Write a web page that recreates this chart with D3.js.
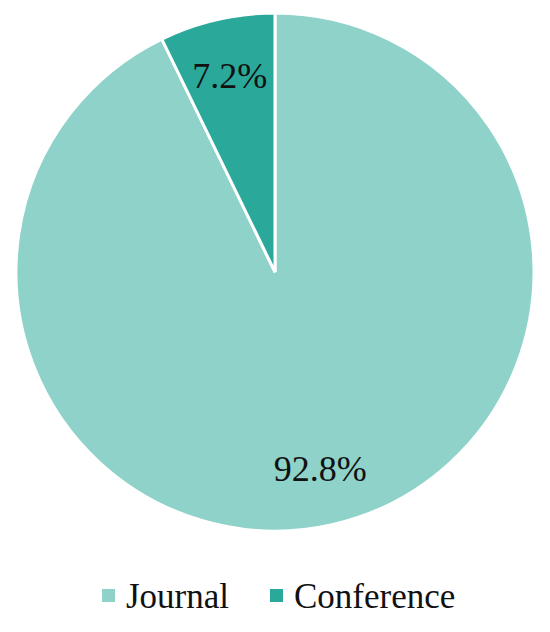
<!DOCTYPE html>
<html>
<head>
<meta charset="utf-8">
<script src="https://cdn.jsdelivr.net/npm/d3@7"></script>
<style>
  body { margin: 0; background: #fff; }
</style>
</head>
<body>
<div id="chart"></div>
<script>
// data
const categories = ["Journal", "Conference"];
const shares = [92.8, 7.2];
const colours = ["#8ed2c9", "#2aa99b"];

const width = 550, height = 632;
const cx = 275, cy = 272, radius = 259;
const fontFamily = "'Liberation Serif', 'Times New Roman', Tinos, 'DejaVu Serif', serif";

const svg = d3.select("#chart").append("svg")
  .attr("width", width)
  .attr("height", height)
  .style("font-family", fontFamily);

const pie = d3.pie().sort(null).value(d => d.v);
const arcs = pie(categories.map((c, i) => ({ c: c, v: shares[i] })));

const arc = d3.arc().innerRadius(0).outerRadius(radius);
const labelArc = d3.arc().innerRadius(radius * 0.78).outerRadius(radius * 0.78);

const g = svg.append("g").attr("transform", `translate(${cx},${cy})`);

g.selectAll("path")
  .data(arcs)
  .join("path")
  .attr("d", arc)
  .attr("fill", (d, i) => colours[i])
  .attr("stroke", "#fff")
  .attr("stroke-width", 3)
  .attr("stroke-linejoin", "miter");

g.selectAll("text.lbl")
  .data(arcs)
  .join("text")
  .attr("class", "lbl")
  .attr("transform", d => `translate(${labelArc.centroid(d)})`)
  .attr("text-anchor", "middle")
  .attr("dy", "0.35em")
  .attr("font-family", fontFamily)
  .attr("font-size", 36)
  .attr("fill", "#111")
  .text(d => d.data.v.toFixed(1) + "%");

// legend
const legend = svg.append("g").attr("transform", "translate(0,596)");
const items = [{ x: 102 }, { x: 270 }];
items.forEach((it, i) => {
  legend.append("rect")
    .attr("x", it.x)
    .attr("y", -7)
    .attr("width", 13)
    .attr("height", 13)
    .attr("fill", colours[i]);
  legend.append("text")
    .attr("x", it.x + 24)
    .attr("y", 0)
    .attr("dy", "0.35em")
    .attr("font-family", fontFamily)
    .attr("font-size", 35)
    .attr("fill", "#111")
    .text(categories[i]);
});
</script>
</body>
</html>
